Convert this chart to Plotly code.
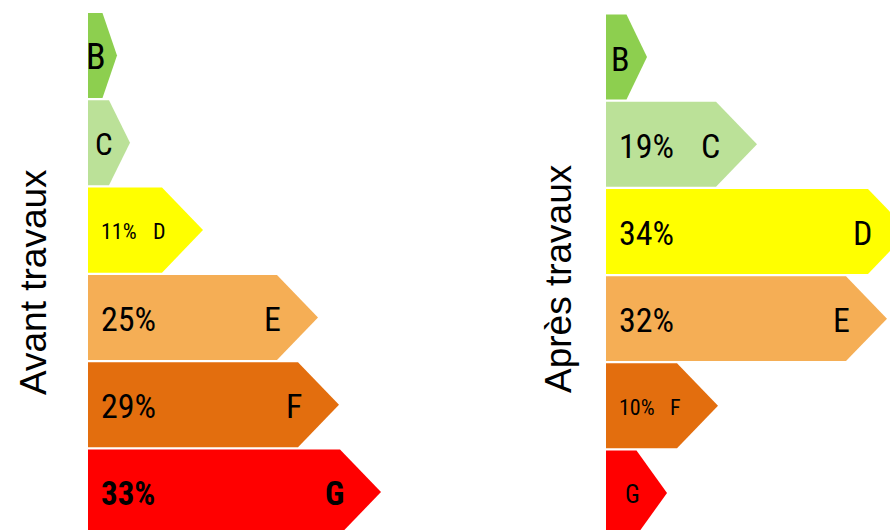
import plotly.graph_objects as go

# ---- data ----
classes = ["B", "C", "D", "E", "F", "G"]
avant_pct = [None, None, 11, 25, 29, 33]
apres_pct = [None, 19, 34, 32, 10, None]
avant_len = [29, 42, 115, 230, 251, 293]
apres_len = [41, 151, 303, 281, 112, 61]
panel_titles = ["Avant travaux", "Après travaux"]

# ---- styles ----
class_colors = {"B": "#8DCF4F", "C": "#BBE198", "D": "#FFFF00",
                "E": "#F5AE55", "F": "#E36E0E", "G": "#FF0000"}
avant_sizes = [36, 31, 22, 34, 34, 33]
apres_sizes = [34, 34, 34, 34, 22, 25]
avant_bold = [False, False, False, False, False, True]
apres_bold = [False] * 6
LABEL_FONT = "Roboto Condensed, Archivo Narrow, DejaVu Sans Condensed, Liberation Sans Narrow, sans-serif"
HALF = 0.487
TIP_MAX = 41

fig = go.Figure()
annotations = []

panels = [
    (avant_len, avant_pct, avant_sizes, avant_bold, "x", "y"),
    (apres_len, apres_pct, apres_sizes, apres_bold, "x2", "y2"),
]

for lens, pcts, sizes, bolds, xa, ya in panels:
    for i, cls in enumerate(classes):
        L = lens[i]
        tip = min(TIP_MAX, L / 2)
        xs = [0, L - tip, L, L - tip, 0, 0]
        ys = [i - HALF, i - HALF, i, i + HALF, i + HALF, i - HALF]
        fig.add_trace(go.Scatter(
            x=xs, y=ys, mode="lines", fill="toself",
            fillcolor=class_colors[cls], line=dict(width=0, color=class_colors[cls]),
            hoverinfo="skip", showlegend=False, xaxis=xa, yaxis=ya))
        txt_letter = f"<b>{cls}</b>" if bolds[i] else cls
        annotations.append(dict(
            x=L - tip + 5.5, y=i + 0.02, xref=xa, yref=ya, text=txt_letter,
            showarrow=False, xanchor="right", yanchor="middle",
            font=dict(family=LABEL_FONT, size=sizes[i], color="black")))
        if pcts[i] is not None:
            t = f"{pcts[i]}%"
            if bolds[i]:
                t = f"<b>{t}</b>"
            annotations.append(dict(
                x=10.5, y=i + 0.02, xref=xa, yref=ya, text=t,
                showarrow=False, xanchor="left", yanchor="middle",
                font=dict(family=LABEL_FONT, size=sizes[i], color="black")))

title_pos = [(33 / 890, 1 - 282 / 530), (558 / 890, 1 - 279 / 530)]
for (tx, ty), title in zip(title_pos, panel_titles):
    annotations.append(dict(
        x=tx, y=ty, xref="paper", yref="paper", text=title, textangle=-90,
        showarrow=False, xanchor="center", yanchor="middle",
        font=dict(family="Liberation Sans, Arial, sans-serif", size=37, color="black")))

fig.update_layout(
    width=890, height=530,
    margin=dict(l=0, r=0, t=0, b=0),
    paper_bgcolor="white", plot_bgcolor="rgba(0,0,0,0)",
    showlegend=False,
    annotations=annotations,
    xaxis=dict(domain=[88 / 890, 1], range=[0, 802], visible=False, fixedrange=True),
    yaxis=dict(domain=[0, 1], range=[5.435, -0.636], visible=False, fixedrange=True),
    xaxis2=dict(domain=[606 / 890, 1], range=[0, 284], visible=False, anchor="y2", fixedrange=True),
    yaxis2=dict(domain=[0, 1], range=[5.424, -0.654], visible=False, anchor="x2", fixedrange=True),
)

fig.write_html("out.html")
